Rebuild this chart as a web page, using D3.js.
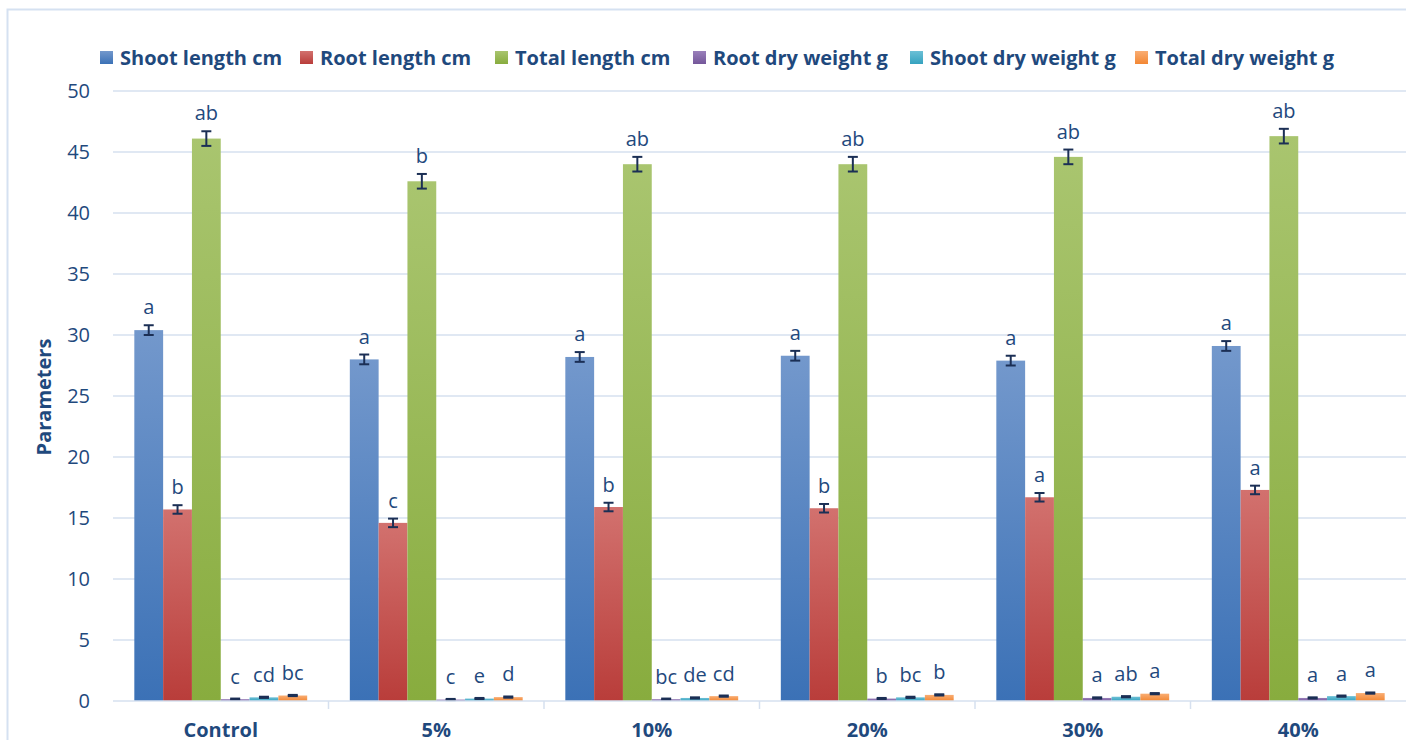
<!DOCTYPE html>
<html>
<head>
<meta charset="utf-8">
<script src="https://cdn.jsdelivr.net/npm/d3@7"></script>
<style>
  html, body { margin: 0; padding: 0; background: #fff; overflow: hidden; }
  svg { display: block; font-family: "Open Sans", sans-serif; }
</style>
</head>
<body>
<svg id="chart" width="1406" height="740"></svg>
<script>
// Treatments (substitution levels)
const categories = ["Control", "5%", "10%", "20%", "30%", "40%"];
const seriesNames = ["Shoot length cm", "Root length cm", "Total length cm",
                     "Root dry weight g", "Shoot dry weight g", "Total dry weight g"];

// Means per series, one value per treatment
const shootLength   = [30.4, 28.0, 28.2, 28.3, 27.9, 29.1];
const rootLength    = [15.7, 14.6, 15.9, 15.8, 16.7, 17.3];
const totalLength   = [46.1, 42.6, 44.0, 44.0, 44.6, 46.3];
const rootDryWeight = [0.15, 0.12, 0.15, 0.20, 0.25, 0.25];
const shootDryWeight= [0.30, 0.20, 0.25, 0.30, 0.35, 0.40];
const totalDryWeight= [0.45, 0.32, 0.40, 0.50, 0.60, 0.65];

// Standard errors
const shootLengthErr   = [0.4, 0.4, 0.4, 0.4, 0.4, 0.4];
const rootLengthErr    = [0.35, 0.35, 0.35, 0.35, 0.35, 0.35];
const totalLengthErr   = [0.6, 0.6, 0.6, 0.6, 0.6, 0.6];
const rootDryWeightErr = [0.05, 0.05, 0.05, 0.05, 0.05, 0.05];
const shootDryWeightErr= [0.05, 0.05, 0.05, 0.05, 0.05, 0.05];
const totalDryWeightErr= [0.05, 0.05, 0.05, 0.05, 0.05, 0.05];

// Significance letters (Duncan groups)
const shootLengthSig   = ["a", "a", "a", "a", "a", "a"];
const rootLengthSig    = ["b", "c", "b", "b", "a", "a"];
const totalLengthSig   = ["ab", "b", "ab", "ab", "ab", "ab"];
const rootDryWeightSig = ["c", "c", "bc", "b", "a", "a"];
const shootDryWeightSig= ["cd", "e", "de", "bc", "ab", "a"];
const totalDryWeightSig= ["bc", "d", "cd", "b", "a", "a"];

const yTicks = [0, 5, 10, 15, 20, 25, 30, 35, 40, 45, 50];

const values = [shootLength, rootLength, totalLength, rootDryWeight, shootDryWeight, totalDryWeight];
const errors = [shootLengthErr, rootLengthErr, totalLengthErr, rootDryWeightErr, shootDryWeightErr, totalDryWeightErr];
const letters = [shootLengthSig, rootLengthSig, totalLengthSig, rootDryWeightSig, shootDryWeightSig, totalDryWeightSig];

// Fill colours: [top, bottom] of the vertical gradient
const palette = [
  ["#7398cc", "#3b71b6"],
  ["#d2716e", "#b93d3a"],
  ["#a9c56f", "#88ac3e"],
  ["#9a80bb", "#74579a"],
  ["#6cc0d6", "#35a2bf"],
  ["#f9ad73", "#f38733"]
];
const textColor = "#1f497d";

const svg = d3.select("#chart");
const defs = svg.append("defs");
palette.forEach((c, i) => {
  const g = defs.append("linearGradient").attr("id", "grad" + i)
    .attr("x1", 0).attr("y1", 0).attr("x2", 0).attr("y2", 1);
  g.append("stop").attr("offset", "0%").attr("stop-color", c[0]);
  g.append("stop").attr("offset", "100%").attr("stop-color", c[1]);
});

// Chart frame
svg.append("rect").attr("x", 7.5).attr("y", 9.5).attr("width", 1420).attr("height", 760)
  .attr("fill", "none").attr("stroke", "#d5e1f1").attr("stroke-width", 2);

const plot = { left: 113, right: 1406, top: 91, bottom: 701 };

const x0 = d3.scaleBand().domain(categories).range([plot.left, plot.right]).padding(0);
const x1 = d3.scaleBand().domain(d3.range(seriesNames.length))
  .range([0, x0.bandwidth()]).paddingInner(0).paddingOuter(0.74);
const y = d3.scaleLinear().domain([0, 50]).range([plot.bottom, plot.top]);

// Horizontal gridlines
svg.append("g").selectAll("line").data(yTicks.filter(d => d > 0)).join("line")
  .attr("x1", plot.left).attr("x2", plot.right)
  .attr("y1", d => y(d)).attr("y2", d => y(d))
  .attr("stroke", "#d6e0ef").attr("stroke-width", 1.5);

// Y tick labels
svg.append("g").selectAll("text").data(yTicks).join("text")
  .attr("x", 90).attr("y", d => y(d)).attr("dy", "0.35em")
  .attr("text-anchor", "end").attr("fill", textColor)
  .attr("font-size", 20).text(d => d);

// Y axis title
svg.append("text")
  .attr("transform", `translate(51,397) rotate(-90)`)
  .attr("text-anchor", "middle").attr("fill", textColor)
  .attr("font-size", 20).attr("font-weight", "bold").text("Parameters");

// Bars
const groups = svg.append("g").selectAll("g").data(categories).join("g")
  .attr("transform", d => `translate(${x0(d)},0)`);

const barData = (c, ci) => seriesNames.map((s, si) => ({
  si, v: values[si][ci], e: errors[si][ci], l: letters[si][ci]
}));

groups.each(function (c, ci) {
  const g = d3.select(this);
  const data = barData(c, ci);
  g.selectAll("rect").data(data).join("rect")
    .attr("x", d => x1(d.si)).attr("width", x1.bandwidth())
    .attr("y", d => y(d.v)).attr("height", d => y(0) - y(d.v))
    .attr("fill", d => `url(#grad${d.si})`);

  // Error bars
  const eb = g.append("g").attr("stroke", "#1b2f55").attr("stroke-width", 2);
  data.forEach(d => {
    const cx = x1(d.si) + x1.bandwidth() / 2;
    eb.append("line").attr("x1", cx).attr("x2", cx)
      .attr("y1", y(d.v + d.e)).attr("y2", y(d.v - d.e));
    [d.v + d.e, d.v - d.e].forEach(t => {
      eb.append("line").attr("x1", cx - 5).attr("x2", cx + 5)
        .attr("y1", y(t)).attr("y2", y(t));
    });
  });

  // Significance letters
  g.selectAll("text.sig").data(data).join("text").attr("class", "sig")
    .attr("x", d => x1(d.si) + x1.bandwidth() / 2)
    .attr("y", d => y(d.v + d.e) - (d.v < 2 ? 15 : 11))
    .attr("text-anchor", "middle").attr("fill", textColor)
    .attr("font-size", 20).text(d => d.l);
});

// X axis line and category ticks
svg.append("line").attr("x1", plot.left).attr("x2", plot.right)
  .attr("y1", plot.bottom).attr("y2", plot.bottom)
  .attr("stroke", "#d6e0ef").attr("stroke-width", 1.5);
svg.append("g").selectAll("line").data(categories.slice(1)).join("line")
  .attr("x1", d => x0(d)).attr("x2", d => x0(d))
  .attr("y1", plot.bottom).attr("y2", plot.bottom + 8)
  .attr("stroke", "#d6e0ef").attr("stroke-width", 1.5);

svg.append("g").selectAll("text").data(categories).join("text")
  .attr("x", d => x0(d) + x0.bandwidth() / 2).attr("y", 737)
  .attr("text-anchor", "middle").attr("fill", textColor)
  .attr("font-size", 20).attr("font-weight", "bold").text(d => d);

// Legend
const legendX = [100, 300, 495, 693, 910, 1135];
const legend = svg.append("g").selectAll("g").data(seriesNames).join("g")
  .attr("transform", (d, i) => `translate(${legendX[i]},51)`);
legend.append("rect").attr("width", 13).attr("height", 13)
  .attr("fill", (d, i) => `url(#grad${i})`);
legend.append("text").attr("x", 20).attr("y", 6.5).attr("dy", "0.36em")
  .attr("fill", textColor).attr("font-size", 20).attr("font-weight", "bold")
  .text(d => d);
</script>
</body>
</html>
